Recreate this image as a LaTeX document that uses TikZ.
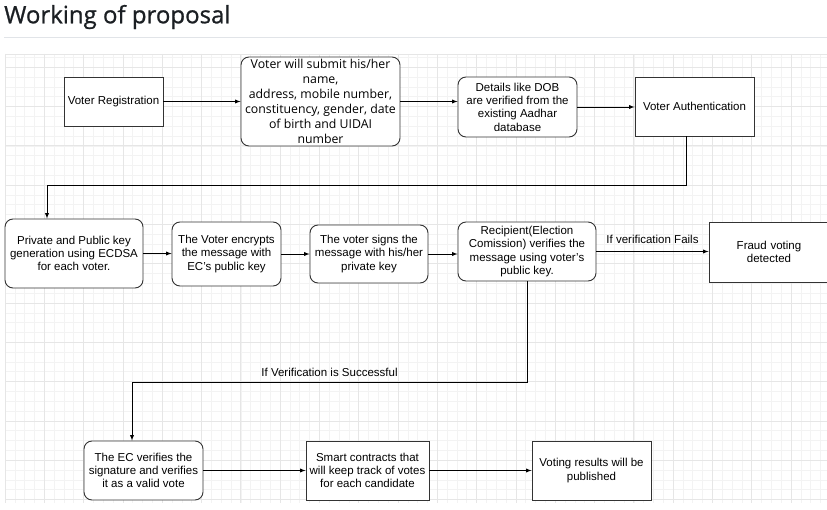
\documentclass[tikz,border=0pt]{standalone}
\usepackage{fontspec}
\setmainfont{Liberation Sans}
\newfontfamily\opensans{Open Sans}
\newfontfamily\titlefont[FakeBold=0.9]{Open Sans}
\usetikzlibrary{arrows}
\definecolor{gridmajor}{HTML}{E6E6E6}
\definecolor{gridminor}{HTML}{F3F3F3}
\definecolor{titlerule}{HTML}{E1E4E8}
\definecolor{titleink}{HTML}{1B1F23}
\tikzset{
	stepbox/.style={draw=black!80, line width=0.9pt, fill=white, align=center, inner sep=0pt,
		font=\fontsize{11.5}{13.3}\selectfont},
	roundbox/.style={stepbox, rounded corners=8pt},
	flowlabel/.style={font=\fontsize{11.5}{13.3}\selectfont, inner sep=0pt}
}

\begin{document}
\begin{tikzpicture}[x=1pt, y=-1pt, line/.style={->, >=latex, line width=0.9pt}]
	\useasboundingbox (0,0) rectangle (827,510);

	% --- title ---
	\node[anchor=west, inner sep=0pt, text=titleink, font=\titlefont\fontsize{24}{27}\selectfont] (title) at (4,17) {Working of proposal};
	\draw[titlerule, line width=0.8pt] (4,37) -- (827,37);

	% --- grid ---
	\foreach \i in {0,...,83}
		\draw[gridminor, line width=0.6pt] ({5+9.825*\i},54) -- ({5+9.825*\i},503);
	\foreach \j in {0,...,45}
		\draw[gridminor, line width=0.6pt] (5,{57.4+9.825*\j}) -- (827,{57.4+9.825*\j});
	\foreach \i in {0,...,20}
		\draw[gridmajor, line width=0.8pt] ({5+39.3*\i},54) -- ({5+39.3*\i},503);
	\foreach \j in {0,...,11}
		\draw[gridmajor, line width=0.8pt] (5,{67.2+39.3*\j}) -- (827,{67.2+39.3*\j});
	\draw[gridmajor, line width=0.8pt] (5,54) -- (827,54);

	% --- registration ---
	\node[stepbox, minimum width=99pt, minimum height=49pt] (reg) at (113.5,101.5) {Voter Registration};
	\node[roundbox, minimum width=159pt, minimum height=89pt, font=\opensans\fontsize{12.3}{15}\selectfont] (submit) at (320.5,101.5)
		{Voter will submit his/her\\name,\\address, mobile number,\\constituency, gender, date\\of birth and UIDAI\\number};
	\node[roundbox, minimum width=119pt, minimum height=60pt] (dob) at (517.5,107)
		{Details like DOB\\are verified from the\\existing Aadhar\\database};
	\node[stepbox, minimum width=119pt, minimum height=59pt] (auth) at (694.5,106.5) {Voter Authentication};

	% --- keys and messages ---
	\node[roundbox, minimum width=138pt, minimum height=69pt] (keys) at (74,253.5)
		{Private and Public key\\generation using ECDSA\\for each voter.};
	\node[roundbox, minimum width=109pt, minimum height=64pt] (encrypt) at (226.5,254)
		{The Voter encrypts\\the message with\\EC's public key};
	\node[roundbox, minimum width=118pt, minimum height=58pt] (sign) at (369,254)
		{The voter signs the\\message with his/her\\private key};
	\node[roundbox, minimum width=138pt, minimum height=59pt] (recipient) at (527,251.5)
		{Recipient(Election\\Comission) verifies the\\message using voter's\\public key.};
	\node[stepbox, minimum width=120pt, minimum height=60pt, text width=120pt] (fraud) at (769,252)
		{Fraud voting\\detected};

	% --- counting ---
	\node[roundbox, minimum width=119pt, minimum height=59pt] (valid) at (143.5,470.5)
		{The EC verifies the\\signature and verifies\\it as a valid vote};
	\node[stepbox, minimum width=123pt, minimum height=59pt] (contract) at (367.5,470.5)
		{Smart contracts that\\will keep track of votes\\for each candidate};
	\node[stepbox, minimum width=119pt, minimum height=59pt] (results) at (591.5,470.5)
		{Voting results will be\\published};

	% --- connectors ---
	\coordinate (authdown) at (686,185);
	\coordinate (keysin) at (47,185);
	\coordinate (recdown) at (527,382);
	\coordinate (validin) at (132,382);

	\draw[line] (reg.east) -- (submit.west |- reg.east);
	\draw[line] (submit.east) -- (submit.east -| dob.west);
	\draw[line] (dob.east) -- (auth.west |- dob.east);
	\draw[line] (authdown |- auth.south) -- (authdown) -- (keysin) -- (keysin |- keys.north);

	\draw[line] (keys.east) -- (encrypt.west |- keys.east);
	\draw[line] (encrypt.east) -- (sign.west |- encrypt.east);
	\draw[line] (sign.east) -- (recipient.west |- sign.east);
	\draw[line] (recipient.east) -- (fraud.west |- recipient.east)
		node[flowlabel, midway, above=7pt] (fails) {If verification Fails};
	\draw[line] (recipient.south) -- (recdown) -- (validin)
		node[flowlabel, pos=0.5, above=5pt] (success) {If Verification is Successful}
		-- (validin |- valid.north);

	\draw[line] (valid.east) -- (contract.west |- valid.east);
	\draw[line] (contract.east) -- (results.west |- contract.east);

\end{tikzpicture}
\end{document}
